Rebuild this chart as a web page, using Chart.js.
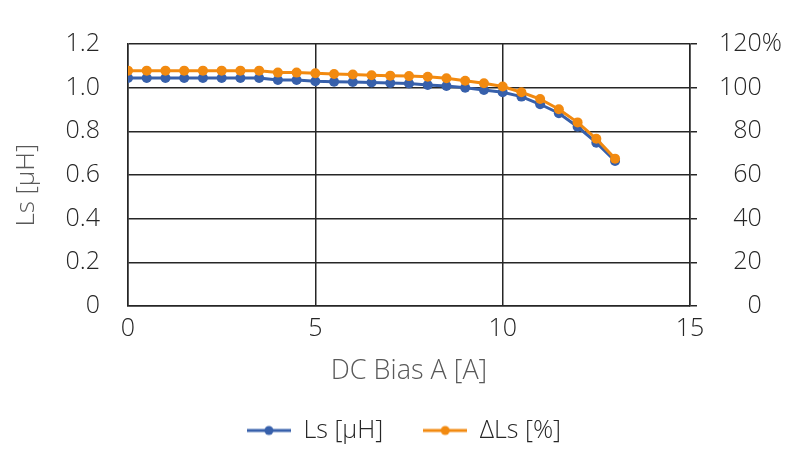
<!DOCTYPE html>
<html>
<head>
<meta charset="utf-8">
<script src="https://cdn.jsdelivr.net/npm/chart.js@4.4.0/dist/chart.umd.min.js"></script>
<style>
  html, body { margin: 0; padding: 0; background: #fff; }
  #wrap { width: 800px; height: 450px; }
</style>
</head>
<body>
<div id="wrap"><canvas id="chart"></canvas></div>
<script>
// DC bias current [A]
const biasA = [0, 0.5, 1, 1.5, 2, 2.5, 3, 3.5, 4, 4.5, 5, 5.5, 6, 6.5, 7, 7.5, 8, 8.5, 9, 9.5,
               10, 10.5, 11, 11.5, 12, 12.5, 13];
// inductance [uH], left axis
const lsUH = [1.044, 1.044, 1.044, 1.044, 1.044, 1.044, 1.044, 1.044, 1.035, 1.035, 1.029, 1.027,
              1.026, 1.024, 1.021, 1.019, 1.012, 1.008, 1.0, 0.989, 0.979, 0.959, 0.924, 0.883,
              0.821, 0.748, 0.664];
// inductance change [%], right axis
const deltaLsPct = [107.8, 107.8, 107.8, 107.8, 107.8, 107.8, 107.8, 107.8, 106.9, 106.9, 106.6, 106.3,
                    106.0, 105.7, 105.5, 105.3, 105.0, 104.3, 103.2, 102.0, 100.5, 97.9, 94.8, 90.1,
                    84.1, 76.6, 67.5];

const leftTickLabels = ['0', '0.2', '0.4', '0.6', '0.8', '1.0', '1.2'];
const rightTickLabels = ['0', '20', '40', '60', '80', '100', '120%'];

const BLUE = '#3760ab';
const ORANGE = '#f28a10';
const GRID = '#262626';
const FONT = "'Open Sans', Roboto, 'Liberation Sans', sans-serif";

// small line + dot image for the legend
function legendMark(color) {
  let c = document.createElement('canvas');
  c.width = 44;
  c.height = 12;
  let g = c.getContext('2d');
  g.strokeStyle = color;
  g.lineWidth = 3;
  g.beginPath();
  g.moveTo(0, 6);
  g.lineTo(44, 6);
  g.stroke();
  g.fillStyle = color;
  g.beginPath();
  g.arc(22, 6, 4.5, 0, Math.PI * 2);
  g.fill();
  return c;
}
const marks = [legendMark(BLUE), legendMark(ORANGE)];

// fixed legend height, and nudge it right so it centres under the page
const fixedLegend = {
  id: 'fixedLegend',
  beforeLayout(chart) {
    let lg = chart.legend;
    if (lg && !lg._patched) {
      let fit = lg.fit;
      lg.fit = function () {
        fit.call(this);
        this.height = 72;
      };
      lg._patched = true;
    }
  },
  afterLayout(chart) {
    if (chart.legend) chart.legend.left += 26;
  }
};

new Chart(document.getElementById('chart'), {
  type: 'line',
  data: {
    datasets: [
      {
        label: 'Ls [μH]',
        data: biasA.map((x, i) => ({x: x, y: lsUH[i]})),
        yAxisID: 'y',
        borderColor: BLUE,
        backgroundColor: BLUE,
        borderWidth: 3,
        pointRadius: 5,
        pointBorderWidth: 0,
        order: 1
      },
      {
        label: 'ΔLs [%]',
        data: biasA.map((x, i) => ({x: x, y: deltaLsPct[i]})),
        yAxisID: 'y1',
        borderColor: ORANGE,
        backgroundColor: ORANGE,
        borderWidth: 3,
        pointRadius: 5,
        pointBorderWidth: 0,
        order: 0
      }
    ]
  },
  options: {
    responsive: true,
    maintainAspectRatio: false,
    animation: false,
    layout: {
      padding: {top: 44, left: 0, right: 18, bottom: 0}
    },
    plugins: {
      tooltip: {enabled: false},
      legend: {
        position: 'bottom',
        labels: {
          usePointStyle: true,
          pointStyleWidth: 44,
          padding: 40,
          color: '#262626',
          font: {family: FONT, size: 25, weight: 300},
          generateLabels(chart) {
            let items = Chart.defaults.plugins.legend.labels.generateLabels(chart);
            items.sort((a, b) => a.datasetIndex - b.datasetIndex);
            items.forEach((it) => { it.pointStyle = marks[it.datasetIndex]; });
            return items;
          }
        }
      }
    },
    scales: {
      x: {
        type: 'linear',
        min: 0,
        max: 15,
        ticks: {
          stepSize: 5,
          padding: 8,
          color: '#262626',
          font: {family: FONT, size: 25, weight: 300}
        },
        grid: {color: GRID, lineWidth: 1.5, drawTicks: false},
        border: {color: GRID, width: 1.5},
        title: {
          display: true,
          text: 'DC Bias A [A]',
          color: '#595959',
          padding: {top: 0, bottom: -10},
          font: {family: FONT, size: 27, weight: 300}
        },
        afterFit(scale) { scale.height = 72; }
      },
      y: {
        position: 'left',
        min: 0,
        max: 1.2,
        ticks: {
          stepSize: 0.2,
          padding: 28,
          color: '#262626',
          font: {family: FONT, size: 25, weight: 300},
          callback: (v, i) => leftTickLabels[i]
        },
        grid: {color: GRID, lineWidth: 1.5, drawTicks: false},
        border: {color: GRID, width: 1.5},
        title: {
          display: true,
          // trailing spaces push the rotated title a little lower, as in the original
          text: 'Ls [μH]   ',
          color: '#595959',
          padding: {top: 11, bottom: 0},
          font: {family: FONT, size: 26, weight: 300}
        },
        afterFit(scale) { scale.width = 128; }
      },
      y1: {
        position: 'right',
        min: 0,
        max: 120,
        ticks: {
          stepSize: 20,
          crossAlign: 'far',
          color: '#262626',
          font: {family: FONT, size: 25, weight: 300},
          callback: (v, i) => {
            let s = rightTickLabels[i];
            return s.endsWith('%') ? s : s + '\u2007\u2008';
          }
        },
        grid: {color: GRID, lineWidth: 1.5, drawOnChartArea: false, tickLength: 7},
        border: {color: GRID, width: 1.5},
        afterFit(scale) { scale.width = 92; }
      }
    }
  },
  plugins: [fixedLegend]
});
</script>
</body>
</html>
